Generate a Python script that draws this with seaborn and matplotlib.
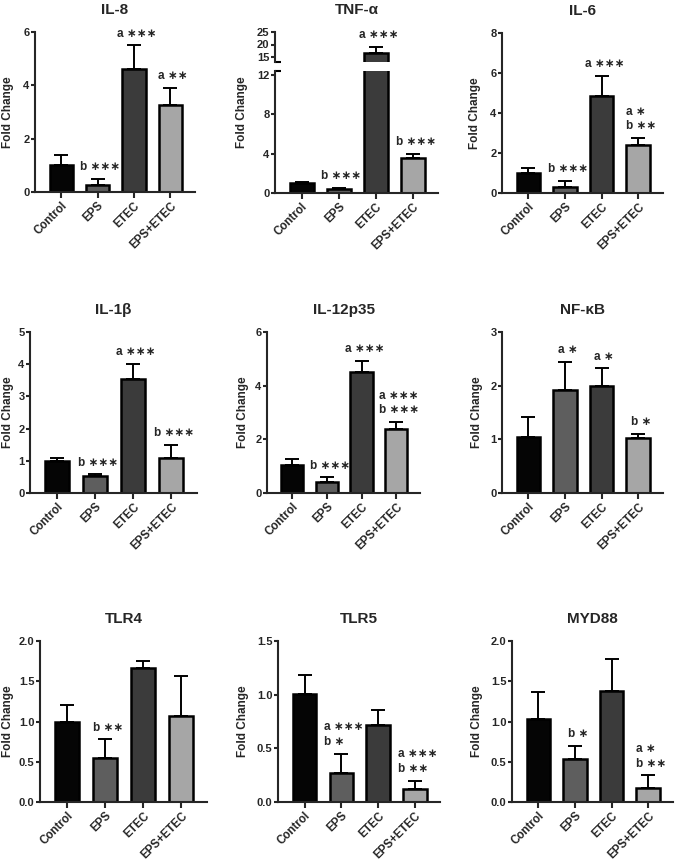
import numpy as np
import matplotlib
matplotlib.use("Agg")
import matplotlib.pyplot as plt
import seaborn as sns

# groups and bar fills
groups = ["Control", "EPS", "ETEC", "EPS+ETEC"]
bar_colors = ["#050505", "#5e5e5e", "#3b3b3b", "#a6a6a6"]

# mean fold change and SEM (upper)
il8_mean = [1.03, 0.25, 4.60, 3.25]
il8_err = [0.35, 0.25, 0.90, 0.65]
il8_sig = ["", "b ∗∗∗", "a ∗∗∗", "a ∗∗"]

tnf_mean = [1.00, 0.45, 16.8, 3.60]
tnf_err = [0.12, 0.10, 2.20, 0.40]
tnf_sig = ["", "b ∗∗∗", "a ∗∗∗", "b ∗∗∗"]

il6_mean = [1.00, 0.30, 4.85, 2.42]
il6_err = [0.25, 0.32, 1.00, 0.33]
il6_sig = ["", "b ∗∗∗", "a ∗∗∗", "a ∗\nb ∗∗"]

il1b_mean = [1.00, 0.53, 3.55, 1.10]
il1b_err = [0.10, 0.05, 0.47, 0.40]
il1b_sig = ["", "b ∗∗∗", "a ∗∗∗", "b ∗∗∗"]

il12_mean = [1.03, 0.40, 4.50, 2.40]
il12_err = [0.22, 0.18, 0.43, 0.25]
il12_sig = ["", "b ∗∗∗", "a ∗∗∗", "a ∗∗∗\nb ∗∗∗"]

nfkb_mean = [1.05, 1.92, 2.00, 1.02]
nfkb_err = [0.37, 0.52, 0.32, 0.08]
nfkb_sig = ["", "a ∗", "a ∗", "b ∗"]

tlr4_mean = [1.00, 0.55, 1.67, 1.07]
tlr4_err = [0.20, 0.23, 0.08, 0.50]
tlr4_sig = ["", "b ∗∗", "", ""]

tlr5_mean = [1.01, 0.27, 0.72, 0.12]
tlr5_err = [0.17, 0.18, 0.14, 0.08]
tlr5_sig = ["", "a ∗∗∗\nb ∗", "", "a ∗∗∗\nb ∗∗"]

myd88_mean = [1.03, 0.53, 1.38, 0.18]
myd88_err = [0.34, 0.17, 0.40, 0.15]
myd88_sig = ["", "b ∗", "", "a ∗\nb ∗∗"]

sns.set_style("ticks")
plt.rcParams["font.family"] = ["Liberation Sans", "DejaVu Sans"]
plt.rcParams["font.weight"] = "bold"
plt.rcParams["axes.labelweight"] = "bold"
plt.rcParams["axes.titleweight"] = "bold"

W, H = 676, 866
fig = plt.figure(figsize=(W / 100, H / 100), dpi=100)


def px_axes(left, right, top, bottom):
    return fig.add_axes([left / W, 1 - bottom / H, (right - left) / W, (bottom - top) / H])


def draw_bars(ax, mean, err):
    sns.barplot(x=groups, y=mean, hue=groups, palette=bar_colors, legend=False,
                saturation=1, width=0.64, edgecolor="black", linewidth=1.8,
                errorbar=None, ax=ax)
    ax.errorbar(range(4), mean, yerr=[np.zeros(4), err], fmt="none", ecolor="black",
                elinewidth=1.4, capsize=5, capthick=1.4, zorder=0.5)
    ax.set_xlim(-0.72, 3.68)


def style(ax):
    sns.despine(ax=ax)
    ax.spines["left"].set_linewidth(1.5)
    ax.spines["bottom"].set_linewidth(1.5)
    ax.tick_params(width=1.5, length=3, labelsize=8, pad=1)
    ax.set_xticks(range(4))
    ax.set_xticklabels(groups, rotation=45, ha="right", rotation_mode="anchor",
                       fontsize=8.3, fontweight="bold")
    ax.tick_params(axis="x", length=4, pad=1.5)
    ax.set_xlabel("")


def annotate(ax, mean, err, labels):
    for i, (m, e, lab) in enumerate(zip(mean, err, labels)):
        if lab:
            ax.annotate(lab, xy=(i, m + e), xytext=(2, 4), textcoords="offset points",
                        ha="center", va="bottom", fontsize=8.5, fontweight="bold",
                        family=["Liberation Sans", "DejaVu Sans"],
                        multialignment="left", linespacing=1.3, annotation_clip=False)


def set_ylabel_px(ax, box, label_right, y_frac=0.5):
    left, right = box[0], box[1]
    ax.set_ylabel("Fold Change", fontsize=8.5)
    ax.yaxis.set_label_coords((label_right - left) / (right - left), y_frac)


def panel(box, title, mean, err, labels, ymax, yticks, label_right):
    ax = px_axes(*box)
    draw_bars(ax, mean, err)
    ax.set_ylim(0, ymax)
    ax.set_yticks(yticks)
    style(ax)
    set_ylabel_px(ax, box, label_right)
    ax.set_title(title, fontsize=11, pad=13)
    annotate(ax, mean, err, labels)
    return ax


panel((35, 195, 32, 192), "IL-8", il8_mean, il8_err, il8_sig, 6, [0, 2, 4, 6], 14)
panel((502, 663, 33, 193), "IL-6", il6_mean, il6_err, il6_sig, 8, [0, 2, 4, 6, 8], 481)
panel((30, 197, 332, 493), "IL-1β", il1b_mean, il1b_err, il1b_sig, 5, [0, 1, 2, 3, 4, 5], 14)
panel((267, 420, 332, 493), "IL-12p35", il12_mean, il12_err, il12_sig, 6, [0, 2, 4, 6], 249)
panel((502, 663, 332, 493), "NF-κB", nfkb_mean, nfkb_err, nfkb_sig, 3, [0, 1, 2, 3], 483)
panel((40, 207, 641, 802), "TLR4", tlr4_mean, tlr4_err, tlr4_sig, 2, [0, 0.5, 1.0, 1.5, 2.0], 14)
panel((278, 440, 641, 802), "TLR5", tlr5_mean, tlr5_err, tlr5_sig, 1.5, [0, 0.5, 1.0, 1.5], 249)
panel((512, 673, 641, 802), "MYD88", myd88_mean, myd88_err, myd88_sig, 2, [0, 0.5, 1.0, 1.5, 2.0], 483)

# TNF-a with a broken y axis
tnf_box = (275, 438, 71, 193)
ax_lo = px_axes(*tnf_box)
draw_bars(ax_lo, tnf_mean, tnf_err)
ax_lo.set_ylim(0, 12.4)
ax_lo.set_yticks([0, 4, 8, 12])
style(ax_lo)
set_ylabel_px(ax_lo, tnf_box, 248, 0.66)
annotate(ax_lo, tnf_mean, tnf_err, tnf_sig[:2] + [""] + tnf_sig[3:])

ax_hi = px_axes(275, 438, 32, 62)
draw_bars(ax_hi, tnf_mean, tnf_err)
ax_hi.set_ylim(13, 25)
ax_hi.set_yticks([15, 20, 25])
sns.despine(ax=ax_hi, bottom=True)
ax_hi.spines["left"].set_linewidth(1.5)
ax_hi.tick_params(width=1.5, length=3, labelsize=8, pad=1)
ax_hi.set_xticks([])
ax_hi.set_xlabel("")
ax_hi.set_ylabel("")
ax_hi.set_title("TNF-α", fontsize=11, pad=13)
annotate(ax_hi, tnf_mean, tnf_err, ["", "", tnf_sig[2], ""])
for a, yy in ((ax_hi, 0), (ax_lo, 1)):
    a.plot([0, 0.035], [yy, yy], transform=a.transAxes, color="black", lw=1.5,
           clip_on=False, solid_capstyle="butt")

fig.savefig("out.png", dpi=100)
